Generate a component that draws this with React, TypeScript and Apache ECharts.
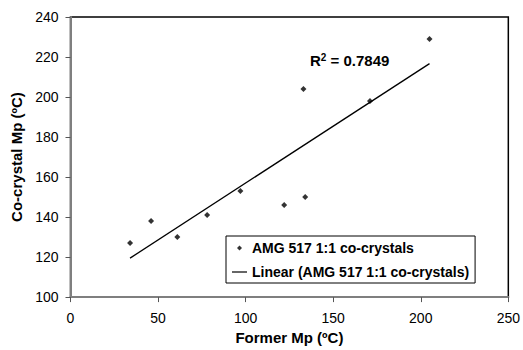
import React, { useEffect, useRef } from "react";
import * as echarts from "echarts";

const formerMp = [34, 46, 61, 78, 97, 122, 133, 134, 171, 205];
const cocrystalMp = [127, 138, 130, 141, 153, 146, 204, 150, 198, 229];
const seriesName = "AMG 517 1:1 co-crystals";
const trendName = "Linear (AMG 517 1:1 co-crystals)";
const r2Label = "0.7849";
const xTitle = "Former Mp (ºC)";
const yTitle = "Co-crystal Mp (ºC)";

const FONT = "'Liberation Sans', Arial, Helvetica, sans-serif";

function linearFit(xs: number[], ys: number[]) {
  const n = xs.length;
  const mx = xs.reduce((a, b) => a + b, 0) / n;
  const my = ys.reduce((a, b) => a + b, 0) / n;
  let sxy = 0;
  let sxx = 0;
  for (let i = 0; i < n; i++) {
    sxy += (xs[i] - mx) * (ys[i] - my);
    sxx += (xs[i] - mx) * (xs[i] - mx);
  }
  const slope = sxy / sxx;
  const intercept = my - slope * mx;
  return { slope, intercept };
}

export default function App() {
  const ref = useRef<HTMLDivElement>(null);

  useEffect(() => {
    if (!ref.current) return;
    const chart = echarts.init(ref.current, null, { renderer: "svg" });
    const { slope, intercept } = linearFit(formerMp, cocrystalMp);
    const xMin = Math.min(...formerMp);
    const xMax = Math.max(...formerMp);
    const trend = [
      [xMin, intercept + slope * xMin],
      [xMax, intercept + slope * xMax],
    ];
    const points = formerMp.map((x, i) => [x, cocrystalMp[i]]);

    chart.setOption({
      animation: false,
      backgroundColor: "#fff",
      textStyle: { fontFamily: FONT },
      grid: {
        left: 70.5,
        right: 12.5,
        top: 17,
        bottom: 45.5,
        show: true,
        borderColor: "#000",
        borderWidth: 1.5,
        backgroundColor: "#fff",
      },
      xAxis: {
        type: "value",
        min: 0,
        max: 250,
        interval: 50,
        name: xTitle,
        nameLocation: "middle",
        nameGap: 28.5,
        nameTextStyle: { fontFamily: FONT, fontSize: 15, fontWeight: "bold", color: "#000" },
        axisLine: { show: true, onZero: false, lineStyle: { color: "#7f7f7f", width: 2 } },
        axisTick: { show: true, inside: false, length: 5, lineStyle: { color: "#555", width: 1 } },
        axisLabel: { margin: 14, fontFamily: FONT, fontSize: 14, color: "#000" },
        splitLine: { show: false },
      },
      yAxis: {
        type: "value",
        min: 100,
        max: 240,
        interval: 20,
        name: yTitle,
        nameLocation: "middle",
        nameGap: 40,
        nameTextStyle: { fontFamily: FONT, fontSize: 15, fontWeight: "bold", color: "#000" },
        axisLine: { show: true, onZero: false, lineStyle: { color: "#7f7f7f", width: 2 } },
        axisTick: { show: true, inside: false, length: 5, lineStyle: { color: "#555", width: 1 } },
        axisLabel: { margin: 12, fontFamily: FONT, fontSize: 14, color: "#000" },
        splitLine: { show: false },
      },
      legend: {
        orient: "vertical",
        left: 226,
        top: 236,
        padding: [5, 6, 4, 6],
        itemGap: 10,
        itemWidth: 15,
        itemHeight: 5,
        backgroundColor: "#fff",
        borderColor: "#000",
        borderWidth: 1,
        borderRadius: 0,
        textStyle: { fontFamily: FONT, fontSize: 14, fontWeight: "bold", color: "#000" },
        data: [
          { name: seriesName, icon: "path://M2 0L4 2L2 4L0 2Z" },
          { name: trendName, icon: "path://M0 0H15V1.2H0Z" },
        ],
      },
      series: [
        {
          name: seriesName,
          type: "scatter",
          data: points,
          symbol: "diamond",
          symbolSize: 6,
          itemStyle: { color: "#000" },
          z: 3,
        },
        {
          name: trendName,
          type: "line",
          data: trend,
          symbol: "none",
          showSymbol: false,
          lineStyle: { color: "#000", width: 1.3 },
          itemStyle: { color: "#000" },
          z: 2,
        },
      ],
      graphic: [
        {
          type: "text",
          left: 310,
          top: 52,
          z: 10,
          style: {
            text: "{r|R}{s|2}{r| = " + r2Label + "}",
            fill: "#000",
            rich: {
              r: { fontFamily: FONT, fontSize: 15, fontWeight: "bold", fill: "#000", verticalAlign: "bottom" },
              s: { fontFamily: FONT, fontSize: 10, fontWeight: "bold", fill: "#000", verticalAlign: "top", padding: [0, 0, 6, 0] },
            },
          },
        },
      ],
    });

    return () => chart.dispose();
  }, []);

  return (
    <div
      ref={ref}
      style={{ position: "fixed", left: 0, top: 0, width: 523, height: 350 }}
    />
  );
}
